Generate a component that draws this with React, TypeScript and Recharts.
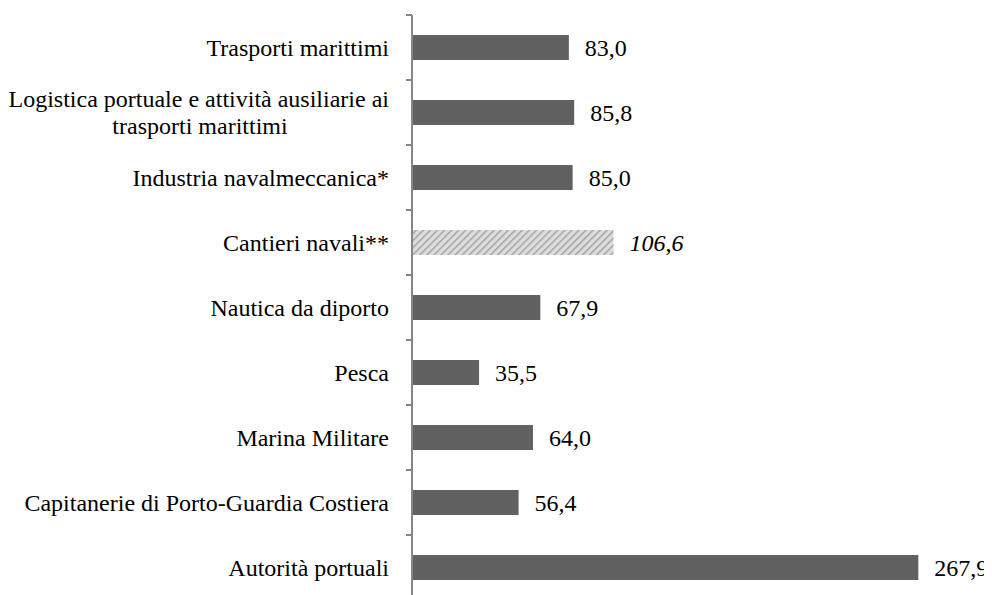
import React from "react";
import { BarChart, Bar, XAxis, YAxis, Cell, LabelList } from "recharts";

const categories: string[] = [
  "Trasporti marittimi ",
  "Logistica portuale e attività ausiliarie ai|trasporti marittimi",
  "Industria navalmeccanica*",
  "Cantieri navali**",
  "Nautica da diporto ",
  "Pesca",
  "Marina Militare",
  "Capitanerie di Porto-Guardia Costiera",
  "Autorità portuali",
];
const values: number[] = [83.0, 85.8, 85.0, 106.6, 67.9, 35.5, 64.0, 56.4, 267.9];
const hatched: boolean[] = [false, false, false, true, false, false, false, false, false];

const data = categories.map((c, i) => ({ name: c, value: values[i], hatched: hatched[i] }));

const FONT = "Liberation Serif";
const AXIS = "#868686";
const BAR = "#616161";

const fmt = (v: number) => v.toFixed(1).replace(".", ",");

const textStyle: React.CSSProperties = { fontFamily: FONT, fontSize: "24px" };

const CatTick = (props: any) => {
  const { x, y, payload, index } = props;
  const half = payload && payload.offset ? payload.offset : 32.5;
  const ax = x + 8;
  const lines = String(payload.value).split("|");
  const isLast = index === categories.length - 1;
  return (
    <g>
      <line x1={ax - 6} x2={ax} y1={y - half} y2={y - half} stroke={AXIS} strokeWidth={2} />
      {isLast && <line x1={ax - 6} x2={ax} y1={y + half} y2={y + half} stroke={AXIS} strokeWidth={2} />}
      {lines.length === 1 ? (
        <text x={ax - 23} y={y + 8} textAnchor="end" style={textStyle} fill="#000">
          {lines[0]}
        </text>
      ) : (
        <g>
          <text x={ax - 23} y={y - 6} textAnchor="end" style={textStyle} fill="#000">
            {lines[0]}
          </text>
          <text x={ax - 212} y={y + 21} textAnchor="middle" style={textStyle} fill="#000">
            {lines[1]}
          </text>
        </g>
      )}
    </g>
  );
};

const ValueLabel = (props: any) => {
  const { x, y, width, height, value, index } = props;
  const italic = hatched[index];
  return (
    <text
      x={x + width + 16}
      y={y + height / 2 + 8}
      style={{ ...textStyle, fontStyle: italic ? "italic" : "normal" }}
      fill="#000"
    >
      {fmt(value)}
    </text>
  );
};

export default function App() {
  return (
    <div>
      <style>{`html, body { overflow: hidden; }`}</style>
      <BarChart
        width={992}
        height={600}
        data={data}
        layout="vertical"
        margin={{ top: 7, right: 21, left: 0, bottom: 8 }}
        barCategoryGap={20}
      >
        <defs>
          <pattern id="hatch" width="5" height="5" patternUnits="userSpaceOnUse" patternTransform="rotate(45)">
            <rect width="5" height="5" fill="#dedede" />
            <line x1="0" y1="0" x2="0" y2="5" stroke="#a3a3a3" strokeWidth="3" />
          </pattern>
        </defs>
        <XAxis type="number" domain={[0, 300]} hide />
        <YAxis
          type="category"
          dataKey="name"
          width={404}
          axisLine={{ stroke: AXIS, strokeWidth: 2 }}
          tickLine={false}
          tick={<CatTick />}
          interval={0}
        />
        <Bar dataKey="value" barSize={25} isAnimationActive={false}>
          {data.map((d, i) => (
            <Cell key={i} fill={d.hatched ? "url(#hatch)" : BAR} />
          ))}
          <LabelList dataKey="value" content={<ValueLabel />} />
        </Bar>
      </BarChart>
    </div>
  );
}
